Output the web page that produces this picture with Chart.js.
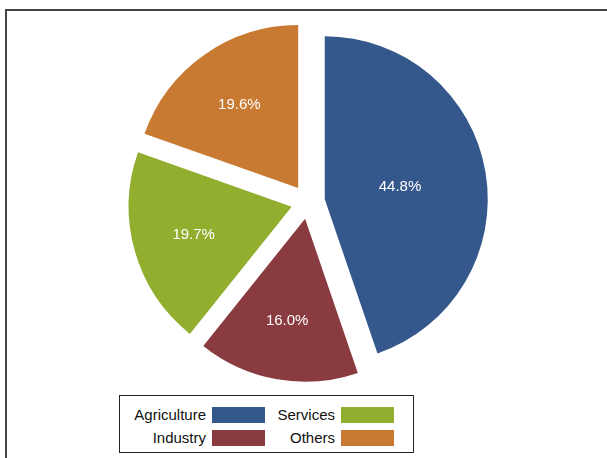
<!DOCTYPE html>
<html>
<head>
<meta charset="utf-8">
<script src="https://cdn.jsdelivr.net/npm/chart.js@4/dist/chart.umd.min.js"></script>
<style>
  html, body { margin: 0; padding: 0; background: #fff; overflow: hidden; }
  #wrap { position: relative; width: 607px; height: 458px; }
  #frame {
    position: absolute; left: 5px; top: 9px; width: 700px; height: 600px;
    border: 2px solid #444; box-sizing: border-box;
  }
  #grafico { position: absolute; left: 0; top: 0; }
  #legenda {
    position: absolute; left: 119px; top: 395px; width: 295px; height: 58px;
    box-sizing: border-box; border: 1.5px solid #222; background: #fff;
    display: grid; grid-auto-flow: column;
    grid-template-rows: 23px 23px; grid-template-columns: 145px 129px;
    padding-top: 7px;
    font-family: "Liberation Sans", Arial, sans-serif; font-size: 15px; color: #111;
  }
  .item { display: flex; align-items: center; justify-content: flex-end; gap: 6px; }
  .caixa { width: 53px; height: 16px; }
</style>
</head>
<body>
<div id="wrap">
  <div id="frame"></div>
  <canvas id="grafico" width="607" height="458"></canvas>
  <div id="legenda"></div>
</div>
<script>
const setores = ['Agriculture', 'Industry', 'Services', 'Others'];
const percentuais = [44.8, 16.0, 19.7, 19.6];
const cores = ['#34578c', '#8a3b40', '#92ae2e', '#c97a32'];

const DESLOCAMENTO = 17; // fatias "explodidas", em px

// o offset do v4 também aumenta o raio das fatias grandes, então desloca aqui
const desenharArco = Chart.ArcElement.prototype.draw;
Chart.ArcElement.prototype.draw = function (ctx) {
  const meio = (this.startAngle + this.endAngle) / 2;
  ctx.save();
  ctx.translate(Math.cos(meio) * DESLOCAMENTO, Math.sin(meio) * DESLOCAMENTO);
  desenharArco.call(this, ctx);
  ctx.restore();
};

// rótulos brancos no centróide de cada fatia
const rotulosPlugin = {
  id: 'rotulos',
  afterDatasetsDraw(chart) {
    const ctx = chart.ctx;
    const meta = chart.getDatasetMeta(0);
    ctx.save();
    ctx.fillStyle = '#ffffff';
    ctx.font = '15px "Liberation Sans", Arial, sans-serif';
    ctx.textAlign = 'center';
    ctx.textBaseline = 'middle';
    meta.data.forEach((arc, i) => {
      const p = arc.getProps(['x', 'y', 'startAngle', 'endAngle', 'outerRadius']);
      const theta = p.endAngle - p.startAngle;
      const meio = (p.startAngle + p.endAngle) / 2;
      const dist = 4 * p.outerRadius * Math.sin(theta / 2) / (3 * theta) + DESLOCAMENTO;
      ctx.fillText(percentuais[i].toFixed(1) + '%', p.x + Math.cos(meio) * dist, p.y + Math.sin(meio) * dist);
    });
    ctx.restore();
  }
};

const meuGrafico = new Chart(document.getElementById('grafico').getContext('2d'), {
  type: 'pie',
  data: {
    labels: setores,
    datasets: [{
      data: percentuais,
      backgroundColor: cores,
      borderWidth: 0,
      radius: 163
    }]
  },
  options: {
    responsive: false,
    animation: false,
    layout: { padding: { left: 20, right: 11, top: 10, bottom: 64 } },
    plugins: {
      legend: { display: false },
      tooltip: { enabled: false }
    }
  },
  plugins: [rotulosPlugin]
});

// legenda em duas colunas, texto à esquerda da caixa de cor
const legenda = document.getElementById('legenda');
setores.forEach((nome, i) => {
  const item = document.createElement('div');
  item.className = 'item';
  const texto = document.createElement('span');
  texto.textContent = nome;
  const caixa = document.createElement('span');
  caixa.className = 'caixa';
  caixa.style.background = cores[i];
  item.appendChild(texto);
  item.appendChild(caixa);
  legenda.appendChild(item);
});
</script>
</body>
</html>
